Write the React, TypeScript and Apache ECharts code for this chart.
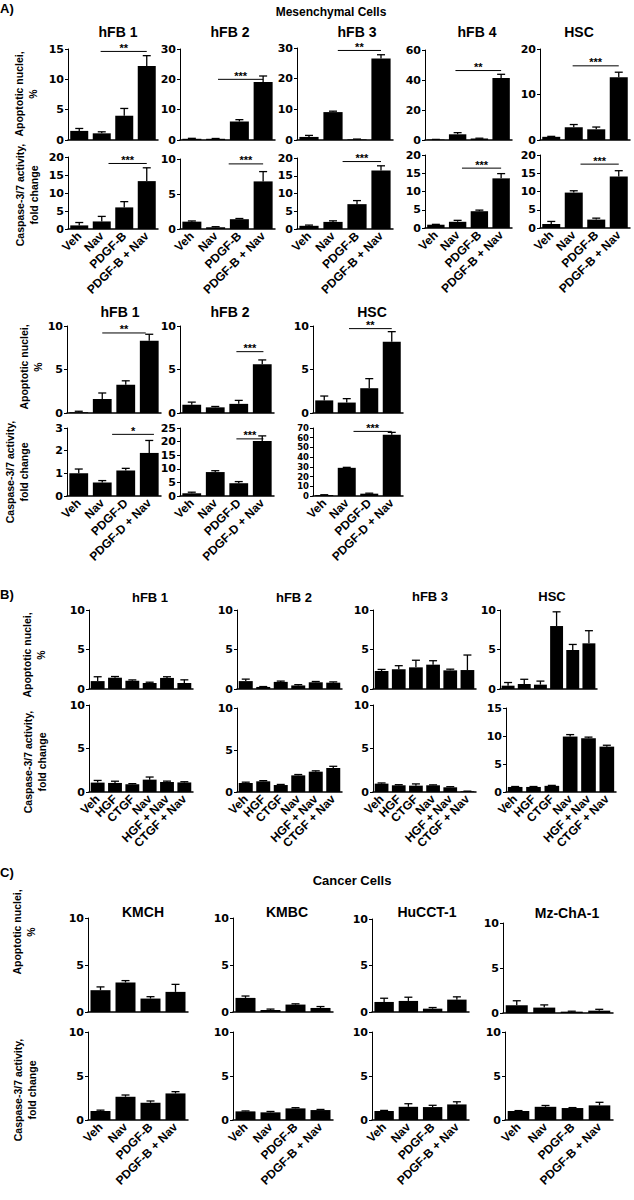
import React, { useEffect, useRef } from "react";
import * as echarts from "echarts";

// ---------- categories ----------
const catsPDGFB = ["Veh", "Nav", "PDGF-B", "PDGF-B + Nav"];
const catsPDGFD = ["Veh", "Nav", "PDGF-D", "PDGF-D + Nav"];
const catsGF = ["Veh", "HGF", "CTGF", "Nav", "HGF + Nav", "CTGF + Nav"];

// ---------- A) Mesenchymal cells, PDGF-B ----------
const aB_hFB1_apo = [1.5, 1.1, 4.0, 12.2];
const aB_hFB1_apoErr = [0.4, 0.25, 1.2, 1.7];
const aB_hFB1_cas = [1.0, 2.1, 6.0, 13.3];
const aB_hFB1_casErr = [0.8, 1.4, 1.6, 3.7];
const aB_hFB2_apo = [0.4, 0.4, 6.1, 19.1];
const aB_hFB2_apoErr = [0.15, 0.1, 0.6, 2.0];
const aB_hFB2_cas = [1.05, 0.25, 1.4, 6.8];
const aB_hFB2_casErr = [0.1, 0.08, 0.1, 1.4];
const aB_hFB3_apo = [1.0, 9.1, 0.2, 26.6];
const aB_hFB3_apoErr = [0.5, 0.3, 0.1, 1.2];
const aB_hFB3_cas = [0.9, 2.0, 7.0, 16.5];
const aB_hFB3_casErr = [0.2, 0.3, 1.0, 1.3];
const aB_hFB4_apo = [0.3, 3.8, 1.0, 41.3];
const aB_hFB4_apoErr = [0.1, 1.1, 0.2, 2.5];
const aB_hFB4_cas = [0.9, 1.7, 4.6, 13.6];
const aB_hFB4_casErr = [0.1, 0.4, 0.3, 1.3];
const aB_HSC_apo = [0.7, 2.8, 2.35, 13.8];
const aB_HSC_apoErr = [0.1, 0.6, 0.5, 1.1];
const aB_HSC_cas = [1.1, 9.7, 2.3, 14.1];
const aB_HSC_casErr = [0.7, 0.5, 0.4, 1.6];

// ---------- A) Mesenchymal cells, PDGF-D ----------
const aD_hFB1_apo = [0.1, 1.6, 3.25, 8.3];
const aD_hFB1_apoErr = [0.1, 0.7, 0.45, 0.75];
const aD_hFB1_cas = [1.0, 0.6, 1.12, 1.9];
const aD_hFB1_casErr = [0.19, 0.08, 0.1, 0.55];
const aD_hFB2_apo = [0.95, 0.65, 1.05, 5.6];
const aD_hFB2_apoErr = [0.3, 0.1, 0.4, 0.5];
const aD_hFB2_cas = [1.0, 8.8, 4.7, 20.2];
const aD_hFB2_casErr = [0.4, 0.5, 0.6, 1.9];
const aD_HSC_apo = [1.45, 1.2, 2.85, 8.2];
const aD_HSC_apoErr = [0.5, 0.45, 1.1, 1.15];
const aD_HSC_cas = [1.0, 29, 2.4, 63];
const aD_HSC_casErr = [0.3, 0.5, 0.5, 2.5];

// ---------- B) growth factors ----------
const b_hFB1_apo = [1.0, 1.43, 1.05, 0.76, 1.4, 0.76];
const b_hFB1_apoErr = [0.55, 0.15, 0.1, 0.1, 0.15, 0.4];
const b_hFB1_cas = [1.08, 1.04, 0.88, 1.42, 1.15, 1.1];
const b_hFB1_casErr = [0.25, 0.2, 0.08, 0.3, 0.1, 0.08];
const b_hFB2_apo = [1.0, 0.26, 0.9, 0.45, 0.85, 0.8];
const b_hFB2_apoErr = [0.25, 0.05, 0.1, 0.1, 0.1, 0.1];
const b_hFB2_cas = [1.07, 1.27, 0.83, 1.98, 2.42, 2.86];
const b_hFB2_casErr = [0.1, 0.08, 0.07, 0.1, 0.1, 0.2];
const b_hFB3_apo = [2.28, 2.5, 2.74, 3.08, 2.36, 2.4];
const b_hFB3_apoErr = [0.2, 0.45, 0.9, 0.5, 0.15, 1.9];
const b_hFB3_cas = [0.96, 0.77, 0.73, 0.77, 0.54, 0.08];
const b_hFB3_casErr = [0.08, 0.07, 0.2, 0.05, 0.07, 0.02];
const b_HSC_apo = [0.42, 0.63, 0.55, 7.97, 4.94, 5.78];
const b_HSC_apoErr = [0.4, 0.6, 0.45, 1.8, 0.7, 1.6];
const b_HSC_cas = [0.9, 0.9, 1.1, 9.9, 9.6, 8.1];
const b_HSC_casErr = [0.08, 0.08, 0.08, 0.35, 0.2, 0.25];

// ---------- C) Cancer cells ----------
const c_KMCH_apo = [2.32, 3.14, 1.43, 2.14];
const c_KMCH_apoErr = [0.35, 0.2, 0.2, 0.8];
const c_KMCH_cas = [1.02, 2.64, 1.96, 3.02];
const c_KMCH_casErr = [0.1, 0.2, 0.2, 0.2];
const c_KMBC_apo = [1.5, 0.21, 0.79, 0.43];
const c_KMBC_apoErr = [0.2, 0.1, 0.08, 0.15];
const c_KMBC_cas = [0.98, 0.87, 1.32, 1.13];
const c_KMBC_casErr = [0.05, 0.1, 0.08, 0.07];
const c_HuCCT_apo = [1.08, 1.19, 0.36, 1.33];
const c_HuCCT_apoErr = [0.4, 0.4, 0.12, 0.3];
const c_HuCCT_cas = [1.02, 1.5, 1.47, 1.77];
const c_HuCCT_casErr = [0.07, 0.35, 0.2, 0.3];
const c_Mz_apo = [0.86, 0.6, 0.15, 0.26];
const c_Mz_apoErr = [0.5, 0.3, 0.05, 0.15];
const c_Mz_cas = [1.02, 1.5, 1.36, 1.66];
const c_Mz_casErr = [0.05, 0.15, 0.05, 0.35];

// ---------- significance brackets: [from category, to category, value, stars] ----------
const sigAB = {
  hFB1a: [0.95, 3.0, 14.6, "**"], hFB1c: [1.3, 3.0, 18.2, "***"],
  hFB2a: [1.1, 3.0, 20, "***"], hFB2c: [1.55, 3.0, 9.3, "***"],
  hFB3a: [1.2, 3.0, 29.2, "**"], hFB3c: [1.4, 3.0, 19, "***"],
  hFB4a: [0.9, 3.0, 46.3, "**"], hFB4c: [1.2, 3.0, 16.4, "***"],
  HSCa: [0.95, 3.0, 16.3, "***"], HSCc: [1.3, 3.0, 17.5, "***"],
};
const sigAD = {
  hFB1a: [1.0, 2.85, 9.2, "**"], hFB1c: [1.42, 3.2, 2.72, "*"],
  hFB2a: [1.9, 3.05, 7.05, "***"], hFB2c: [1.9, 3.05, 21, "***"],
  HSCa: [1.1, 3.0, 9.7, "**"], HSCc: [1.3, 3.0, 66.5, "***"],
};

type Sig = (number | string)[];
interface Panel {
  cats: string[]; vals: number[]; errs: number[]; max: number; step: number;
  sig?: Sig; box: number[]; labels: boolean;
}

const P = (cats: string[], vals: number[], errs: number[], max: number, step: number, box: number[], labels: boolean, sig?: Sig): Panel =>
  ({ cats, vals, errs, max, step, box, labels, sig });

const panels: Panel[] = [
  // A top (PDGF-B) apoptosis
  P(catsPDGFB, aB_hFB1_apo, aB_hFB1_apoErr, 15, 5, [68, 49, 90, 91], false, sigAB.hFB1a),
  P(catsPDGFB, aB_hFB2_apo, aB_hFB2_apoErr, 30, 10, [180, 49, 95, 91], false, sigAB.hFB2a),
  P(catsPDGFB, aB_hFB3_apo, aB_hFB3_apoErr, 30, 10, [297, 48, 96, 92], false, sigAB.hFB3a),
  P(catsPDGFB, aB_hFB4_apo, aB_hFB4_apoErr, 60, 20, [425, 50, 87, 90], false, sigAB.hFB4a),
  P(catsPDGFB, aB_HSC_apo, aB_HSC_apoErr, 20, 10, [540, 49, 90, 91], false, sigAB.HSCa),
  // A top caspase
  P(catsPDGFB, aB_hFB1_cas, aB_hFB1_casErr, 20, 5, [68, 157, 90, 72], true, sigAB.hFB1c),
  P(catsPDGFB, aB_hFB2_cas, aB_hFB2_casErr, 10, 5, [180, 159, 95, 70], true, sigAB.hFB2c),
  P(catsPDGFB, aB_hFB3_cas, aB_hFB3_casErr, 20, 5, [297, 158, 96, 71], true, sigAB.hFB3c),
  P(catsPDGFB, aB_hFB4_cas, aB_hFB4_casErr, 20, 5, [425, 155, 87, 73], true, sigAB.hFB4c),
  P(catsPDGFB, aB_HSC_cas, aB_HSC_casErr, 20, 5, [540, 155, 90, 73], true, sigAB.HSCc),
  // A lower (PDGF-D)
  P(catsPDGFD, aD_hFB1_apo, aD_hFB1_apoErr, 10, 5, [67, 326, 94, 87], false, sigAD.hFB1a),
  P(catsPDGFD, aD_hFB2_apo, aD_hFB2_apoErr, 10, 5, [180, 326, 94, 87], false, sigAD.hFB2a),
  P(catsPDGFD, aD_HSC_apo, aD_HSC_apoErr, 10, 5, [313, 326, 90, 87], false, sigAD.HSCa),
  P(catsPDGFD, aD_hFB1_cas, aD_hFB1_casErr, 3, 1, [67, 428, 94, 68], true, sigAD.hFB1c),
  P(catsPDGFD, aD_hFB2_cas, aD_hFB2_casErr, 25, 5, [180, 428, 94, 68], true, sigAD.hFB2c),
  P(catsPDGFD, aD_HSC_cas, aD_HSC_casErr, 70, 10, [313, 428, 90, 68], true, sigAD.HSCc),
  // B
  P(catsGF, b_hFB1_apo, b_hFB1_apoErr, 10, 5, [89, 610, 104, 79], false),
  P(catsGF, b_hFB2_apo, b_hFB2_apoErr, 10, 5, [237, 610, 105, 79], false),
  P(catsGF, b_hFB3_apo, b_hFB3_apoErr, 10, 5, [373, 610, 103, 79], false),
  P(catsGF, b_HSC_apo, b_HSC_apoErr, 10, 5, [500, 610, 97, 79], false),
  P(catsGF, b_hFB1_cas, b_hFB1_casErr, 10, 5, [89, 705, 104, 87], true),
  P(catsGF, b_hFB2_cas, b_hFB2_casErr, 10, 5, [237, 708, 105, 84], true),
  P(catsGF, b_hFB3_cas, b_hFB3_casErr, 10, 5, [373, 705, 103, 87], true),
  P(catsGF, b_HSC_cas, b_HSC_casErr, 15, 5, [506, 708, 110, 84], true),
  // C
  P(catsPDGFB, c_KMCH_apo, c_KMCH_apoErr, 10, 5, [88, 918, 100, 94], false),
  P(catsPDGFB, c_KMBC_apo, c_KMBC_apoErr, 10, 5, [233, 918, 100, 94], false),
  P(catsPDGFB, c_HuCCT_apo, c_HuCCT_apoErr, 10, 5, [372, 919, 97, 93], false),
  P(catsPDGFB, c_Mz_apo, c_Mz_apoErr, 10, 5, [503, 923, 110, 90], false),
  P(catsPDGFB, c_KMCH_cas, c_KMCH_casErr, 10, 5, [88, 1032, 100, 88], true),
  P(catsPDGFB, c_KMBC_cas, c_KMBC_casErr, 10, 5, [233, 1032, 100, 88], true),
  P(catsPDGFB, c_HuCCT_cas, c_HuCCT_casErr, 10, 5, [372, 1032, 97, 88], true),
  P(catsPDGFB, c_Mz_cas, c_Mz_casErr, 10, 5, [505, 1032, 108, 88], true),
];

const FT = '"DejaVu Sans", sans-serif';
const FL = '"Liberation Sans", Arial, sans-serif';

const titleText = (text: string, x: number, y: number, size = 14) => ({
  type: "text", x, y,
  style: { text, fill: "#000", font: `bold ${size}px ${FL}`, align: "center", verticalAlign: "middle" },
});
const yName = (text: string, x: number, y: number) => ({
  type: "text", x, y, rotation: Math.PI / 2,
  style: { text, fill: "#000", font: `bold 10.5px ${FL}`, align: "center", verticalAlign: "middle", lineHeight: 14 },
});

function buildOption() {
  const grid: any[] = [];
  const xAxis: any[] = [];
  const yAxis: any[] = [];
  const series: any[] = [];
  panels.forEach((p, i) => {
    const tickGap = p.box[3] / (p.max / p.step);
    grid.push({ left: p.box[0], top: p.box[1], width: p.box[2], height: p.box[3] });
    xAxis.push({
      type: "category", gridIndex: i, data: p.cats,
      axisLine: { lineStyle: { color: "#000", width: 1.5 } },
      axisTick: { show: false },
      axisLabel: {
        show: p.labels, rotate: 45, interval: 0, margin: 5,
        color: "#000", fontWeight: "bold", fontSize: 12, fontFamily: FL,
      },
    });
    yAxis.push({
      type: "value", gridIndex: i, min: 0, max: p.max, interval: p.step,
      splitLine: { show: false },
      axisLine: { show: true, lineStyle: { color: "#000", width: 1 } },
      axisTick: { show: true, length: 3, lineStyle: { color: "#000" } },
      axisLabel: {
        color: "#000", fontWeight: "bold", fontFamily: FT, margin: 4,
        fontSize: tickGap < 12 ? 8.5 : 11, lineHeight: tickGap < 12 ? 9 : 13,
        showMaxLabel: true, showMinLabel: true, hideOverlap: false,
      },
    });
    series.push({
      type: "bar", xAxisIndex: i, yAxisIndex: i, data: p.vals,
      itemStyle: { color: "#000" }, barCategoryGap: "20%", z: 2,
    });
    series.push({
      type: "custom", xAxisIndex: i, yAxisIndex: i, z: 3,
      data: p.vals.map((v, j) => [j, v, p.errs[j]]),
      encode: { x: 0, y: 1 },
      renderItem: (_params: any, api: any) => {
        const j = api.value(0);
        const v = api.value(1);
        const e = api.value(2);
        const base = api.coord([j, v]);
        const top = api.coord([j, v + e]);
        const st = { stroke: "#000", lineWidth: 1.3 };
        return {
          type: "group",
          children: [
            { type: "line", shape: { x1: base[0], y1: base[1], x2: top[0], y2: top[1] }, style: st },
            { type: "line", shape: { x1: top[0] - 4, y1: top[1], x2: top[0] + 4, y2: top[1] }, style: st },
          ],
        };
      },
    });
    if (p.sig) {
      const sig = p.sig;
      series.push({
        type: "custom", xAxisIndex: i, yAxisIndex: i, z: 4,
        data: [[0, sig[2]]],
        encode: { x: 0, y: 1 },
        renderItem: (_params: any, api: any) => {
          const bw = api.size([1, 0])[0];
          const o = api.coord([0, api.value(1)]);
          const xs = o[0] + (sig[0] as number) * bw;
          const xe = o[0] + (sig[1] as number) * bw;
          return {
            type: "group",
            children: [
              { type: "line", shape: { x1: xs, y1: o[1], x2: xe, y2: o[1] }, style: { stroke: "#000", lineWidth: 1 } },
              {
                type: "text", x: (xs + xe) / 2, y: o[1] + 2,
                style: { text: sig[3] as string, fill: "#000", font: `bold 11px ${FL}`, align: "center", verticalAlign: "bottom" },
              },
            ],
          };
        },
      });
    }
  });

  const graphic: any[] = [
    { type: "text", x: 0, y: 2, style: { text: "A)", fill: "#000", font: `bold 13px ${FL}` } },
    { type: "text", x: 0, y: 588, style: { text: "B)", fill: "#000", font: `bold 13px ${FL}` } },
    { type: "text", x: 0, y: 866, style: { text: "C)", fill: "#000", font: `bold 13px ${FL}` } },
    titleText("Mesenchymal Cells", 331, 12, 12),
    titleText("Cancer Cells", 352, 880, 13),
    titleText("hFB 1", 118, 32), titleText("hFB 2", 230, 32), titleText("hFB 3", 357, 32),
    titleText("hFB 4", 477, 32), titleText("HSC", 579, 32),
    titleText("hFB 1", 120, 312), titleText("hFB 2", 230, 312), titleText("HSC", 372, 312),
    titleText("hFB 1", 150, 597, 13), titleText("hFB 2", 294, 597, 13), titleText("hFB 3", 430, 596, 13), titleText("HSC", 552, 596, 13),
    titleText("KMCH", 143, 912), titleText("KMBC", 287, 912), titleText("HuCCT-1", 427, 912), titleText("Mz-ChA-1", 567, 913),
    yName("Apoptotic nuclei,\n%", 26, 94),
    yName("Caspase-3/7 activity,\nfold change", 27, 195),
    yName("Apoptotic nuclei,\n%", 31, 367),
    yName("Caspase-3/7 activity,\nfold change", 17, 472),
    yName("Apoptotic nuclei,\n%", 34, 655),
    yName("Caspase-3/7 activity,\nfold change", 35, 762),
    yName("Apoptotic nuclei,\n%", 24, 932),
    yName("Caspase-3/7 activity,\nfold change", 25, 1090),
  ];

  return { animation: false, backgroundColor: "#fff", grid, xAxis, yAxis, series, graphic };
}

export default function App() {
  const ref = useRef<HTMLDivElement>(null);
  useEffect(() => {
    document.body.style.margin = "0";
    if (!ref.current) return;
    const chart = echarts.init(ref.current, undefined, { renderer: "svg" });
    chart.setOption(buildOption() as any);
    return () => chart.dispose();
  }, []);
  return <div ref={ref} style={{ width: 634, height: 1200 }} />;
}
